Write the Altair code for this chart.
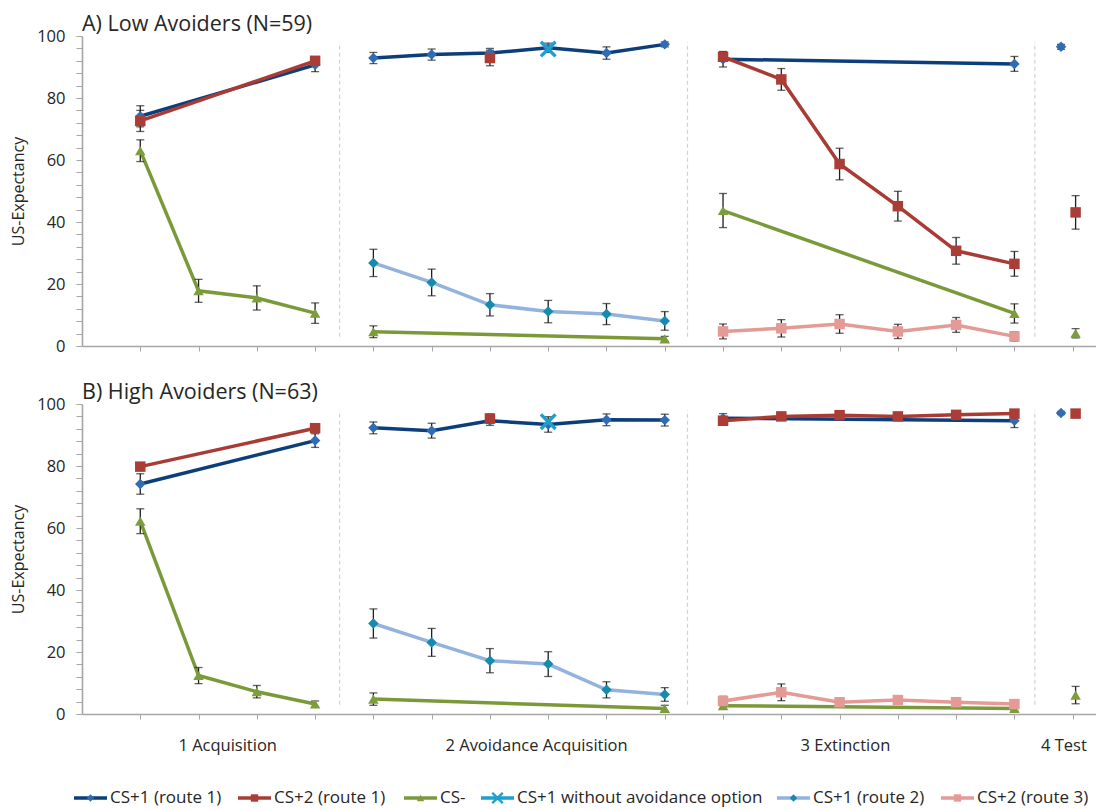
import altair as alt
import pandas as pd

# ---------------- data ----------------
SERIES = ["CS+1 (route 1)", "CS+2 (route 1)", "CS-", "CS+1 without avoidance option",
          "CS+1 (route 2)", "CS+2 (route 3)"]
LINE_COLORS = ["#0d3e7c", "#a93b35", "#7a9a3a", "#1ba0cf", "#93b3de", "#e49a95"]
MARKER_COLORS = ["#2f6cb4", "#ab3d37", "#7d9c3c", "#1ba0cf", "#168aaf", "#e49a95"]
X_PATH = ("M-1,-0.72L-0.72,-1L0,-0.28L0.72,-1L1,-0.72L0.28,0L1,0.72L0.72,1L0,0.28"
          "L-0.72,1L-1,0.72L-0.28,0Z")
SHAPES = ["diamond", "square", "triangle-up", X_PATH, "diamond", "square"]

PHASES = ["1 Acquisition", "2 Avoidance Acquisition", "3 Extinction", "4 Test"]
PHASE_LABEL_X = [2.5, 7.8, 13.1, 16.85]
SEPARATORS = [4.42, 10.39, 16.35]
TRIAL_TICKS = list(range(1, 18))

# trial positions of each series
X_CS1_R1 = [1, 4, 5, 6, 7, 8, 9, 10, 11, 16, 16.8]
X_CS2_R1 = [1, 4, 7, 11, 12, 13, 14, 15, 16, 17.05]
X_CSM = [1, 2, 3, 4, 5, 10, 11, 16, 17.05]
X_NOAVOID = [8]
X_CS1_R2 = [5, 6, 7, 8, 9, 10]
X_CS2_R3 = [11, 12, 13, 14, 15, 16]

# Panel A: Low Avoiders
A_CS1_R1 = [74.1, 90.7, 92.9, 94.0, 94.5, 96.2, 94.5, 97.3, 92.5, 91.0, 96.5]
A_CS1_R1_ERR = [3.4, 2.2, 1.8, 1.8, 1.5, 1.5, 2.0, 0.8, 2.5, 2.4, 0.8]
A_CS2_R1 = [72.6, 92.0, 92.9, 93.3, 86.0, 58.7, 45.1, 30.7, 26.5, 43.1]
A_CS2_R1_ERR = [3.4, 1.2, 2.5, 1.5, 3.5, 5.1, 4.8, 4.3, 4.0, 5.4]
A_CSM = [63.0, 17.8, 15.5, 10.6, 4.6, 2.3, 43.7, 10.5, 4.1]
A_CSM_ERR = [3.5, 3.7, 3.9, 3.3, 1.9, 0.8, 5.5, 3.1, 1.5]
A_NOAVOID = [95.8]
A_NOAVOID_ERR = [0]
A_CS1_R2 = [26.8, 20.5, 13.3, 11.1, 10.3, 8.1]
A_CS1_R2_ERR = [4.4, 4.3, 3.6, 3.6, 3.4, 3.0]
A_CS2_R3 = [4.7, 5.7, 7.1, 4.7, 6.8, 3.1]
A_CS2_R3_ERR = [2.4, 2.8, 3.0, 2.3, 2.4, 1.5]

# Panel B: High Avoiders
B_CS1_R1 = [74.2, 88.2, 92.3, 91.4, 94.6, 93.4, 94.9, 94.8, 95.4, 94.6, 97.1]
B_CS1_R1_ERR = [3.3, 2.2, 1.9, 2.4, 1.5, 2.5, 1.9, 1.9, 1.5, 2.2, 0.5]
B_CS2_R1 = [79.8, 92.2, 95.3, 94.6, 96.0, 96.4, 96.0, 96.5, 96.9, 96.9]
B_CS2_R1_ERR = [1.0, 1.0, 1.5, 1.0, 0.8, 0.8, 0.8, 0.8, 0.8, 0.5]
B_CSM = [62.2, 12.4, 7.2, 3.2, 4.8, 1.8, 2.7, 1.8, 6.1]
B_CSM_ERR = [4.0, 2.6, 2.0, 1.0, 2.0, 1.0, 1.0, 0.8, 2.8]
B_NOAVOID = [94.3]
B_NOAVOID_ERR = [0]
B_CS1_R2 = [29.2, 23.1, 17.2, 16.1, 7.8, 6.3]
B_CS1_R2_ERR = [4.7, 4.5, 3.9, 4.0, 2.6, 2.2]
B_CS2_R3 = [4.2, 7.0, 3.8, 4.5, 3.8, 3.2]
B_CS2_R3_ERR = [1.5, 2.7, 1.2, 1.2, 1.0, 1.0]

XS = [X_CS1_R1, X_CS2_R1, X_CSM, X_NOAVOID, X_CS1_R2, X_CS2_R3]
PANELS = {
    "A": ([A_CS1_R1, A_CS2_R1, A_CSM, A_NOAVOID, A_CS1_R2, A_CS2_R3],
          [A_CS1_R1_ERR, A_CS2_R1_ERR, A_CSM_ERR, A_NOAVOID_ERR, A_CS1_R2_ERR, A_CS2_R3_ERR]),
    "B": ([B_CS1_R1, B_CS2_R1, B_CSM, B_NOAVOID, B_CS1_R2, B_CS2_R3],
          [B_CS1_R1_ERR, B_CS2_R1_ERR, B_CSM_ERR, B_NOAVOID_ERR, B_CS1_R2_ERR, B_CS2_R3_ERR]),
}


def phase_of(x):
    if x < 4.5:
        return 1
    if x < 10.5:
        return 2
    if x < 16.5:
        return 3
    return 4


rows = []
for p, (means, errs) in PANELS.items():
    for si, s in enumerate(SERIES):
        for x, m, e in zip(XS[si], means[si], errs[si]):
            ph = phase_of(x)
            rows.append(dict(panel=p, series=s, order=si, x=x, mean=m, err=e,
                             lo=m - e, hi=m + e, seg=f"{si}-{ph}"))
df = pd.DataFrame(rows)
sep_df = pd.DataFrame({"x": SEPARATORS})
phase_df = pd.DataFrame({"phase": PHASES, "x": PHASE_LABEL_X})
legend_df = pd.DataFrame({"series": SERIES})

# ---------------- style ----------------
FONT = "Open Sans"
TXT = "#262626"
AX = "#a6a6a6"
W, H = 1014, 310
LEGEND_PX = [-8, 156, 322, 399, 695, 859]
LEGEND_Y = 394
PHASE_Y = 342

XSCALE = alt.Scale(domain=[0, 17.4], nice=False, zero=False)
YSCALE = alt.Scale(domain=[0, 100], nice=False)
STROKE_SCALE = alt.Scale(domain=SERIES, range=LINE_COLORS)
FILL_SCALE = alt.Scale(domain=SERIES, range=MARKER_COLORS)
SHAPE_SCALE = alt.Scale(domain=SERIES, range=SHAPES)

X_AXIS = alt.Axis(values=TRIAL_TICKS, labels=False, title=None)
Y_AXIS = alt.Axis(values=list(range(0, 101, 4)),
                  labelExpr="datum.value % 20 == 0 ? datum.label : ''",
                  title="US-Expectancy", titleFontSize=16, labelFontSize=16.5,
                  titleFont=FONT, labelFont=FONT, titleFontWeight="normal")


def X():
    return alt.X("x:Q", scale=XSCALE, axis=X_AXIS)


def Y(field):
    return alt.Y(f"{field}:Q", scale=YSCALE, axis=Y_AXIS)


def panel(p, title, bottom=False):
    base = alt.Chart(df[df.panel == p])
    sep = alt.Chart(sep_df).mark_rule(color="#d2d2d2", strokeDash=[4, 3], strokeWidth=1.2).encode(
        x=X(), y=alt.Y(datum=3, type="quantitative", scale=YSCALE, axis=Y_AXIS),
        y2=alt.datum(98))
    lines = base.mark_line(strokeWidth=3.5).encode(
        x=X(), y=Y("mean"),
        stroke=alt.Stroke("series:N", scale=STROKE_SCALE, legend=None),
        detail="seg:N", order="x:Q")
    eb = base.transform_filter("datum.err > 0")
    rules = eb.mark_rule(color="#1e1e1e", strokeWidth=1.3).encode(
        x=X(), y=Y("lo"), y2="hi:Q")
    cap_lo = eb.mark_tick(orient="horizontal", size=8, thickness=1.3, color="#1e1e1e").encode(
        x=X(), y=Y("lo"))
    cap_hi = eb.mark_tick(orient="horizontal", size=8, thickness=1.3, color="#1e1e1e").encode(
        x=X(), y=Y("hi"))
    pts = base.transform_filter(f"datum.series != '{SERIES[3]}'").mark_point(
        filled=True, size=110, opacity=1, strokeWidth=0).encode(
        x=X(), y=Y("mean"),
        fill=alt.Fill("series:N", scale=FILL_SCALE, legend=None),
        shape=alt.Shape("series:N", scale=SHAPE_SCALE, legend=None))
    xs = base.transform_filter(f"datum.series == '{SERIES[3]}'").mark_point(
        filled=True, size=290, opacity=1, strokeWidth=0).encode(
        x=X(), y=Y("mean"),
        fill=alt.Fill("series:N", scale=FILL_SCALE, legend=None),
        shape=alt.Shape("series:N", scale=SHAPE_SCALE, legend=None))
    layers = [sep, lines, rules, cap_lo, cap_hi, pts, xs]
    if bottom:
        layers.append(alt.Chart(phase_df).mark_text(
            fontSize=16.5, font=FONT, color=TXT, align="center", baseline="middle").encode(
            x=X(), y=alt.value(PHASE_Y), text="phase:N"))
        for i, s in enumerate(SERIES):
            lx = LEGEND_PX[i]
            src = alt.Chart(legend_df).transform_filter(f"datum.series == '{s}'")
            layers.append(src.mark_rule(strokeWidth=3.5).encode(
                x=alt.value(lx), x2=alt.value(lx + 33), y=alt.value(LEGEND_Y),
                stroke=alt.Stroke("series:N", scale=STROKE_SCALE, legend=None)))
            layers.append(src.mark_point(filled=True, size=150 if i == 3 else 55,
                                         opacity=1, strokeWidth=0).encode(
                x=alt.value(lx + 16.5), y=alt.value(LEGEND_Y),
                fill=alt.Fill("series:N", scale=FILL_SCALE, legend=None),
                shape=alt.Shape("series:N", scale=SHAPE_SCALE, legend=None)))
            layers.append(src.mark_text(fontSize=17, font=FONT, color=TXT, align="left",
                                        baseline="middle").encode(
                x=alt.value(lx + 36), y=alt.value(LEGEND_Y), text="series:N"))
    return alt.layer(*layers).properties(
        width=W, height=H,
        title=alt.Title(title, anchor="start", frame="group", fontSize=21.5, font=FONT,
                        fontWeight="normal", color=TXT, offset=-7))


chart = alt.vconcat(
    panel("A", "A) Low Avoiders (N=59)"),
    panel("B", "B) High Avoiders (N=63)", bottom=True),
    spacing=26,
).properties(
    padding={"left": 2, "top": 5, "right": 0, "bottom": 12}
).configure(font=FONT).configure_view(stroke=None).configure_axis(
    grid=False, domainColor=AX, tickColor=AX, domainWidth=1.6, tickWidth=1,
    labelFont=FONT, labelFontSize=16.5, labelColor=TXT,
    titleFont=FONT, titleFontSize=16, titleFontWeight="normal", titleColor=TXT
).configure_axisY(tickSize=6, labelPadding=11, titlePadding=10).configure_axisX(tickSize=5)

chart.save("out.html", embed_options={"renderer": "svg", "actions": False})
